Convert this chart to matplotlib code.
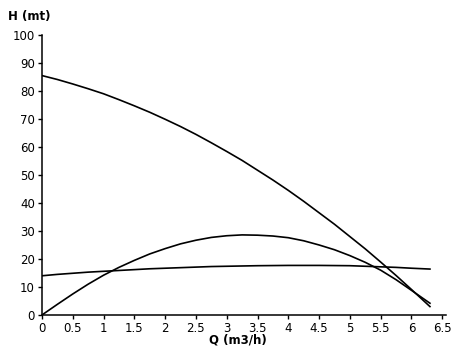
import matplotlib.pyplot as plt

# flow rate Q (m3/h)
q = [0, 0.25, 0.5, 0.75, 1, 1.25, 1.5, 1.75, 2, 2.25, 2.5, 2.75, 3, 3.25,
     3.5, 3.75, 4, 4.25, 4.5, 4.75, 5, 5.25, 5.5, 5.75, 6, 6.3]
# head curve
head = [85.5, 84.1, 82.5, 80.8, 79.0, 76.9, 74.7, 72.4, 69.9, 67.3, 64.5, 61.5, 58.4, 55.2,
        51.7, 48.2, 44.5, 40.6, 36.5, 32.4, 28.0, 23.6, 18.9, 14.1, 9.1, 3.0]
# hump-shaped curve
curve2 = [0, 3.8, 7.5, 11.0, 14.2, 17.0, 19.5, 21.8, 23.7, 25.4, 26.7, 27.7, 28.3, 28.6,
          28.5, 28.2, 27.6, 26.5, 25.0, 23.3, 21.2, 18.8, 16.0, 12.6, 8.8, 4.2]
# nearly flat curve
curve3 = [14.0, 14.5, 14.9, 15.3, 15.6, 15.9, 16.2, 16.5, 16.7, 16.9, 17.1, 17.3, 17.4, 17.5,
          17.6, 17.65, 17.7, 17.7, 17.7, 17.65, 17.6, 17.4, 17.2, 17.0, 16.7, 16.4]

xticks = [0, 0.5, 1, 1.5, 2, 2.5, 3, 3.5, 4, 4.5, 5, 5.5, 6, 6.5]
xticklabels = ['0', '0.5', '1', '1.5', '2', '2.5', '3', '3.5', '4', '4.5', '5', '5.5', '6', '6.5']
yticks = list(range(0, 101, 10))

fig = plt.figure(figsize=(4.56, 3.59), dpi=100)
ax = fig.add_axes([0.092, 0.1226, 0.886, 0.78])

for y in (head, curve2, curve3):
    ax.plot(q, y, color='black', lw=1.2)

ax.set_xlim(0, 6.56)
ax.set_ylim(0, 100)
ax.set_xticks(xticks)
ax.set_xticklabels(xticklabels)
ax.set_yticks(yticks)
ax.tick_params(labelsize=8.5, length=3, width=1, direction='out', pad=2)
for s in ('top', 'right'):
    ax.spines[s].set_visible(False)
for s in ('left', 'bottom'):
    ax.spines[s].set_linewidth(1.1)

fig.text(0.018, 0.955, 'H (mt)', fontsize=8.5, fontweight='bold', ha='left', va='center')
fig.text(0.522, 0.053, 'Q (m3/h)', fontsize=8.5, fontweight='bold', ha='center', va='center')

fig.savefig('out.png', dpi=100)
